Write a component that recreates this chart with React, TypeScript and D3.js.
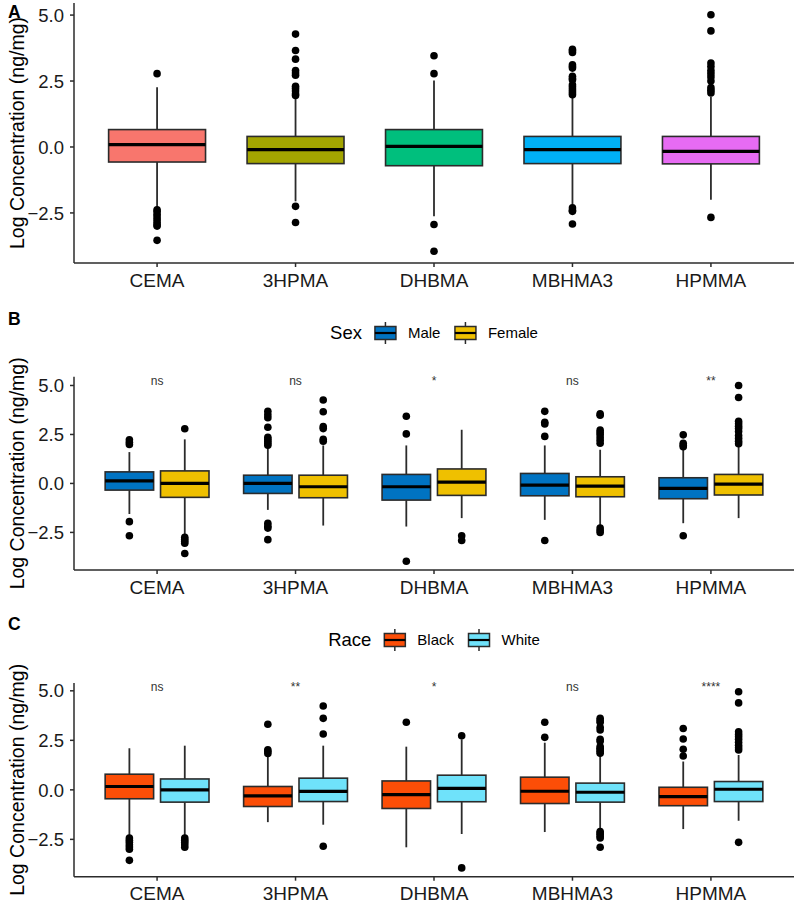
import React from "react";
import * as d3 from "d3";

const categories = ["CEMA", "3HPMA", "DHBMA", "MBHMA3", "HPMMA"];
const tickValues = [-2.5, 0, 2.5, 5.0];

// stats per category: [lowerWhisker, q1, median, q3, upperWhisker]
const colorsA = ["#F8766D", "#A3A500", "#00BF7D", "#00B0F6", "#E76BF3"];
const statsA = [
  [-2.3, -0.57, 0.09, 0.66, 2.26],
  [-2.06, -0.63, -0.1, 0.4, 1.83],
  [-2.63, -0.71, 0.02, 0.66, 2.52],
  [-2.19, -0.63, -0.1, 0.4, 1.86],
  [-2.0, -0.64, -0.17, 0.4, 1.9],
];
const outliersA = [
  [2.78, -2.38, -2.45, -2.55, -2.65, -2.75, -2.85, -2.95, -3.0, -3.54],
  [4.28, 3.66, 3.33, 2.9, 2.8, 2.72, 2.3, 2.22, 2.12, 2.02, 1.95, -2.25, -2.86],
  [3.46, 2.78, -2.94, -3.95],
  [3.7, 3.65, 3.58, 3.12, 3.05, 2.99, 2.68, 2.6, 2.55, 2.36, 2.28, 2.2, 2.12, 2.05, 1.98, -2.31, -2.4, -2.44, -2.92],
  [5.01, 4.4, 3.18, 3.05, 2.9, 2.78, 2.65, 2.5, 2.25, 2.15, 2.05, -2.67],
];

const sexGroups = ["Male", "Female"];
const sexColors = ["#0073C2", "#EFC000"];
const statsMale = [
  [-1.56, -0.34, 0.13, 0.59, 1.6],
  [-1.35, -0.51, 0.0, 0.42, 1.86],
  [-2.2, -0.85, -0.17, 0.46, 1.94],
  [-1.86, -0.63, -0.09, 0.51, 1.94],
  [-2.03, -0.78, -0.25, 0.29, 1.77],
];
const outliersMale = [
  [2.23, 2.1, 1.99, -1.95, -2.67],
  [3.68, 3.5, 3.35, 2.87, 2.36, 2.25, 2.15, 2.05, 1.95, -2.03, -2.18, -2.28, -2.87],
  [3.43, 2.53, -3.97],
  [3.68, 3.12, 3.04, 2.4, -2.91],
  [2.48, 2.05, 1.95, 1.87, -2.67],
];
const statsFemale = [
  [-2.62, -0.71, 0.0, 0.64, 2.25],
  [-2.15, -0.73, -0.17, 0.42, 1.94],
  [-1.77, -0.61, 0.07, 0.74, 2.74],
  [-2.16, -0.68, -0.14, 0.34, 1.72],
  [-1.77, -0.59, -0.04, 0.46, 1.94],
];
const outliersFemale = [
  [2.79, -2.75, -2.85, -2.95, -3.05, -3.58],
  [4.26, 3.66, 2.9, 2.8, 2.25, 2.15],
  [-2.67, -2.91],
  [3.55, 3.48, 2.72, 2.6, 2.5, 2.35, 2.2, 2.05, -2.28, -2.4, -2.5],
  [5.0, 4.39, 3.17, 3.05, 2.92, 2.8, 2.65, 2.45, 2.3, 2.15, 2.03],
];
const sigSex = ["ns", "ns", "*", "ns", "**"];

const raceGroups = ["Black", "White"];
const raceColors = ["#FC4E07", "#6FE2FA"];
const statsBlack = [
  [-2.3, -0.45, 0.17, 0.79, 2.1],
  [-1.63, -0.84, -0.3, 0.17, 1.7],
  [-2.9, -0.94, -0.24, 0.45, 2.18],
  [-2.13, -0.69, -0.07, 0.64, 2.38],
  [-1.98, -0.8, -0.34, 0.13, 1.43],
];
const outliersBlack = [
  [-2.43, -2.55, -2.65, -2.77, -2.88, -3.0, -3.56],
  [3.31, 2.02, 1.93, 1.84],
  [3.41],
  [3.41, 2.65],
  [3.1, 2.57, 2.05, 1.71],
];
const statsWhite = [
  [-2.3, -0.62, 0.0, 0.55, 2.23],
  [-1.76, -0.59, -0.08, 0.59, 2.23],
  [-2.23, -0.6, 0.07, 0.74, 2.55],
  [-1.98, -0.62, -0.12, 0.34, 1.73],
  [-1.56, -0.59, 0.03, 0.42, 1.76],
];
const outliersWhite = [
  [-2.43, -2.55, -2.65, -2.77, -2.9],
  [4.23, 3.61, 2.82, -2.85],
  [2.73, -3.94],
  [3.61, 3.5, 3.41, 3.16, 3.02, 2.55, 2.45, 2.18, 2.1, 2.01, 1.93, 1.85, -2.1, -2.18, -2.26, -2.35, -2.43, -2.9],
  [4.95, 4.39, 2.93, 2.8, 2.68, 2.55, 2.4, 2.25, 2.12, 2.01, -2.65],
];
const sigRace = ["ns", "**", "*", "ns", "****"];

const FONT = "'Liberation Sans', Arial, sans-serif";
const AXIS = "#2b2b2b";
const LEFT = 74;
const RIGHT = 794;

const CW: Record<string, number> = {
  S: 0.667, e: 0.556, x: 0.5, M: 0.833, a: 0.556, l: 0.222, F: 0.611, m: 0.833,
  R: 0.722, c: 0.5, B: 0.667, k: 0.5, W: 0.944, h: 0.556, i: 0.222, t: 0.278,
};
const textW = (s: string, size: number) =>
  s.split("").reduce((acc, ch) => acc + (CW[ch] ?? 0.556), 0) * size;

type Series = { stats: number[][]; outliers: number[][]; color: string | string[] };

function Panel(props: {
  top: number;
  bottom: number;
  letter: string;
  letterY: number;
  series: Series[];
  sig?: string[];
  legend?: { title: string; groups: string[]; colors: string[]; y: number };
}) {
  const { top, bottom, letter, letterY, series, sig, legend } = props;
  const all: number[] = [];
  series.forEach((s) => {
    s.stats.forEach((r) => all.push(...r));
    s.outliers.forEach((r) => all.push(...r));
  });
  const [mn, mx] = d3.extent(all) as [number, number];
  const pad = (mx - mn) * 0.05;
  const y = d3.scaleLinear().domain([mn - pad, mx + pad]).range([bottom, top]);
  const x = d3.scalePoint<string>().domain(categories).range([LEFT, RIGHT]).padding(0.6);
  const step = x.step();
  const n = series.length;
  const boxW = n === 1 ? 0.7 * step : 0.35 * step;
  const offsets = n === 1 ? [0] : [-0.2 * step, 0.2 * step];

  const boxes: React.ReactNode[] = [];
  series.forEach((s, si) => {
    categories.forEach((c, ci) => {
      const [lo, q1, med, q3, hi] = s.stats[ci];
      const cx = (x(c) as number) + offsets[si];
      const fill = Array.isArray(s.color) ? s.color[ci] : s.color;
      boxes.push(
        <g key={`b${si}-${ci}`}>
          <line x1={cx} x2={cx} y1={y(q3)} y2={y(hi)} stroke={AXIS} strokeWidth={1.8} />
          <line x1={cx} x2={cx} y1={y(q1)} y2={y(lo)} stroke={AXIS} strokeWidth={1.8} />
          <rect x={cx - boxW / 2} y={y(q3)} width={boxW} height={y(q1) - y(q3)} fill={fill} stroke={AXIS} strokeWidth={1.6} />
          <line x1={cx - boxW / 2} x2={cx + boxW / 2} y1={y(med)} y2={y(med)} stroke="#000" strokeWidth={3.2} />
          {s.outliers[ci].map((v, oi) => (
            <circle key={oi} cx={cx} cy={y(v)} r={3.8} fill="#000" />
          ))}
        </g>
      );
    });
  });

  const midY = (top + bottom) / 2;

  let legendNode: React.ReactNode = null;
  if (legend) {
    const tSize = 18.5;
    const lSize = 15;
    const keyW = 21;
    const widths =
      textW(legend.title, tSize) + 13 +
      legend.groups.reduce((acc, g, i) => acc + keyW + 12 + textW(g, lSize) + (i < legend.groups.length - 1 ? 14.5 : 0), 0);
    let cur = (LEFT + RIGHT) / 2 - widths / 2;
    const items: React.ReactNode[] = [];
    items.push(
      <text key="t" x={cur} y={legend.y} dy="0.35em" fontSize={tSize} fill="#000">
        {legend.title}
      </text>
    );
    cur += textW(legend.title, tSize) + 13;
    legend.groups.forEach((g, i) => {
      const kx = cur;
      const kc = kx + keyW / 2;
      items.push(
        <g key={g}>
          <line x1={kc} x2={kc} y1={legend.y - 11} y2={legend.y + 11} stroke={AXIS} strokeWidth={1.5} />
          <rect x={kx} y={legend.y - 6.5} width={keyW} height={13} fill={legend.colors[i]} stroke={AXIS} strokeWidth={1.5} />
          <line x1={kx} x2={kx + keyW} y1={legend.y} y2={legend.y} stroke="#000" strokeWidth={2.2} />
          <text x={kx + keyW + 12} y={legend.y} dy="0.35em" fontSize={lSize} fill="#000">
            {g}
          </text>
        </g>
      );
      cur += keyW + 12 + textW(g, lSize) + 14.5;
    });
    legendNode = <g>{items}</g>;
  }

  return (
    <g>
      <text x={8} y={letterY} fontSize={17.5} fontWeight="bold" fill="#000">
        {letter}
      </text>
      {legendNode}
      <text transform={`translate(24,${midY}) rotate(-90)`} textAnchor="middle" fontSize={19.5} fill="#000">
        Log Concentration (ng/mg)
      </text>
      {boxes}
      {sig &&
        categories.map((c, ci) => (
          <text key={`s${ci}`} x={x(c) as number} y={y(5.0)} textAnchor="middle" fontSize={12} fill="#333">
            {sig[ci]}
          </text>
        ))}
      <line x1={LEFT} x2={LEFT} y1={top} y2={bottom} stroke={AXIS} strokeWidth={1.5} />
      <line x1={LEFT} x2={RIGHT} y1={bottom} y2={bottom} stroke={AXIS} strokeWidth={1.5} />
      {tickValues.map((t) => (
        <g key={t}>
          <line x1={LEFT - 4} x2={LEFT} y1={y(t)} y2={y(t)} stroke={AXIS} strokeWidth={1.5} />
          <text x={LEFT - 10} y={y(t)} dy="0.36em" textAnchor="end" fontSize={18.5} fill="#1a1a1a">
            {d3.format(".1f")(t)}
          </text>
        </g>
      ))}
      {categories.map((c) => (
        <g key={c}>
          <line x1={x(c) as number} x2={x(c) as number} y1={bottom} y2={bottom + 4} stroke={AXIS} strokeWidth={1.5} />
          <text x={x(c) as number} y={bottom + 23.5} textAnchor="middle" fontSize={19} fill="#1a1a1a">
            {c}
          </text>
        </g>
      ))}
    </g>
  );
}

export default function App() {
  return (
    <div style={{ position: "absolute", left: 0, top: 0, width: 800, height: 908, background: "#fff" }}>
      <svg width={800} height={908} style={{ display: "block", fontFamily: FONT }}>
        <rect width={800} height={908} fill="#fff" />
        <Panel
          top={3}
          bottom={263}
          letter="A"
          letterY={18}
          series={[{ stats: statsA, outliers: outliersA, color: colorsA }]}
        />
        <Panel
          top={376.7}
          bottom={570}
          letter="B"
          letterY={325}
          series={[
            { stats: statsMale, outliers: outliersMale, color: sexColors[0] },
            { stats: statsFemale, outliers: outliersFemale, color: sexColors[1] },
          ]}
          sig={sigSex}
          legend={{ title: "Sex", groups: sexGroups, colors: sexColors, y: 333 }}
        />
        <Panel
          top={683}
          bottom={876.7}
          letter="C"
          letterY={630}
          series={[
            { stats: statsBlack, outliers: outliersBlack, color: raceColors[0] },
            { stats: statsWhite, outliers: outliersWhite, color: raceColors[1] },
          ]}
          sig={sigRace}
          legend={{ title: "Race", groups: raceGroups, colors: raceColors, y: 640 }}
        />
      </svg>
    </div>
  );
}
